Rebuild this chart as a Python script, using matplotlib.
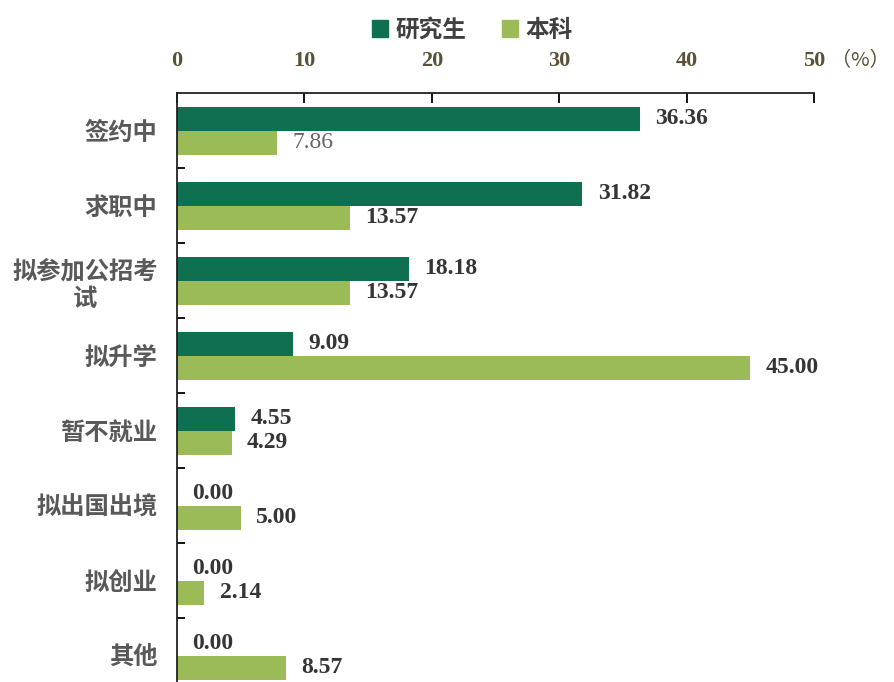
import matplotlib
matplotlib.use("Agg")
import matplotlib.pyplot as plt
from matplotlib.patches import Patch
from matplotlib.ticker import FixedLocator

categories = ["签约中", "求职中", "拟参加公招考\n试", "拟升学", "暂不就业", "拟出国出境", "拟创业", "其他"]
grad = [36.36, 31.82, 18.18, 9.09, 4.55, 0.00, 0.00, 0.00]
under = [7.86, 13.57, 13.57, 45.00, 4.29, 5.00, 2.14, 8.57]
series_names = ["研究生", "本科"]
xticks = [0, 10, 20, 30, 40, 50]

c_dark = "#0E7050"
c_light = "#9BBB59"
cjk = ["Noto Sans CJK SC", "DejaVu Sans"]
serif = "Liberation Serif"

W, H = 894, 682
fig = plt.figure(figsize=(W / 100, H / 100), dpi=100)
ax = fig.add_axes([177 / W, (682 - 693) / H, (814 - 177) / W, 600 / H])

y = list(range(len(categories)))
bh = 0.32
ax.barh([i - bh / 2 for i in y], grad, height=bh, color=c_dark)
ax.barh([i + bh / 2 for i in y], under, height=bh, color=c_light)

vfs = 17
for i, (g, u) in enumerate(zip(grad, under)):
    ax.text(g + 1.2, i - bh / 2, f"{g:.2f}", ha="left", va="center",
            fontfamily=serif, fontweight="bold", fontsize=vfs, color="#353535")
    if i == 0:
        ax.text(u + 1.2, i + bh / 2, f"{u:.2f}", ha="left", va="center",
                fontfamily=serif, fontweight="normal", fontsize=vfs, color="#666666")
    else:
        ax.text(u + 1.2, i + bh / 2, f"{u:.2f}", ha="left", va="center",
                fontfamily=serif, fontweight="bold", fontsize=vfs, color="#353535")

ax.set_xlim(0, 50)
ax.set_ylim(len(categories) - 0.5, -0.5)

ax.xaxis.tick_top()
ax.set_xticks(xticks)
ax.set_xticklabels([str(t) for t in xticks], fontfamily=serif, fontweight="bold",
                   fontsize=16, color="#5a5238")
ax.tick_params(axis="x", which="major", direction="in", length=7, width=1.3, pad=16,
               top=True, bottom=False, labeltop=True, labelbottom=False)

ax.set_yticks(y)
ax.set_yticklabels(categories, fontfamily=cjk, fontweight="bold", fontsize=17.5, color="#595959")
for lbl in ax.get_yticklabels():
    lbl.set_multialignment("center")
ax.tick_params(axis="y", which="major", length=0, pad=14)
ax.yaxis.set_minor_locator(FixedLocator([i + 0.5 for i in y[:-1]]))
ax.tick_params(axis="y", which="minor", direction="in", length=6, width=1.3)

for s in ["right", "bottom"]:
    ax.spines[s].set_visible(False)
for s in ["top", "left"]:
    ax.spines[s].set_linewidth(1.3)
    ax.spines[s].set_color("#222222")

fig.text(831 / W, 1 - 61 / H, "（%）", ha="left", va="center", fontfamily=cjk,
         fontsize=14.5, color="#5a5238")

handles = [Patch(color=c_dark), Patch(color=c_light)]
fig.legend(handles, series_names, loc="center", bbox_to_anchor=(472 / W, 1 - 30 / H), ncol=2,
           frameon=False, handlelength=0.7, handleheight=0.7, handletextpad=0.3,
           columnspacing=1.5, prop={"family": cjk, "weight": "bold", "size": 17},
           labelcolor="#404040")

fig.savefig("out.png", dpi=100)
